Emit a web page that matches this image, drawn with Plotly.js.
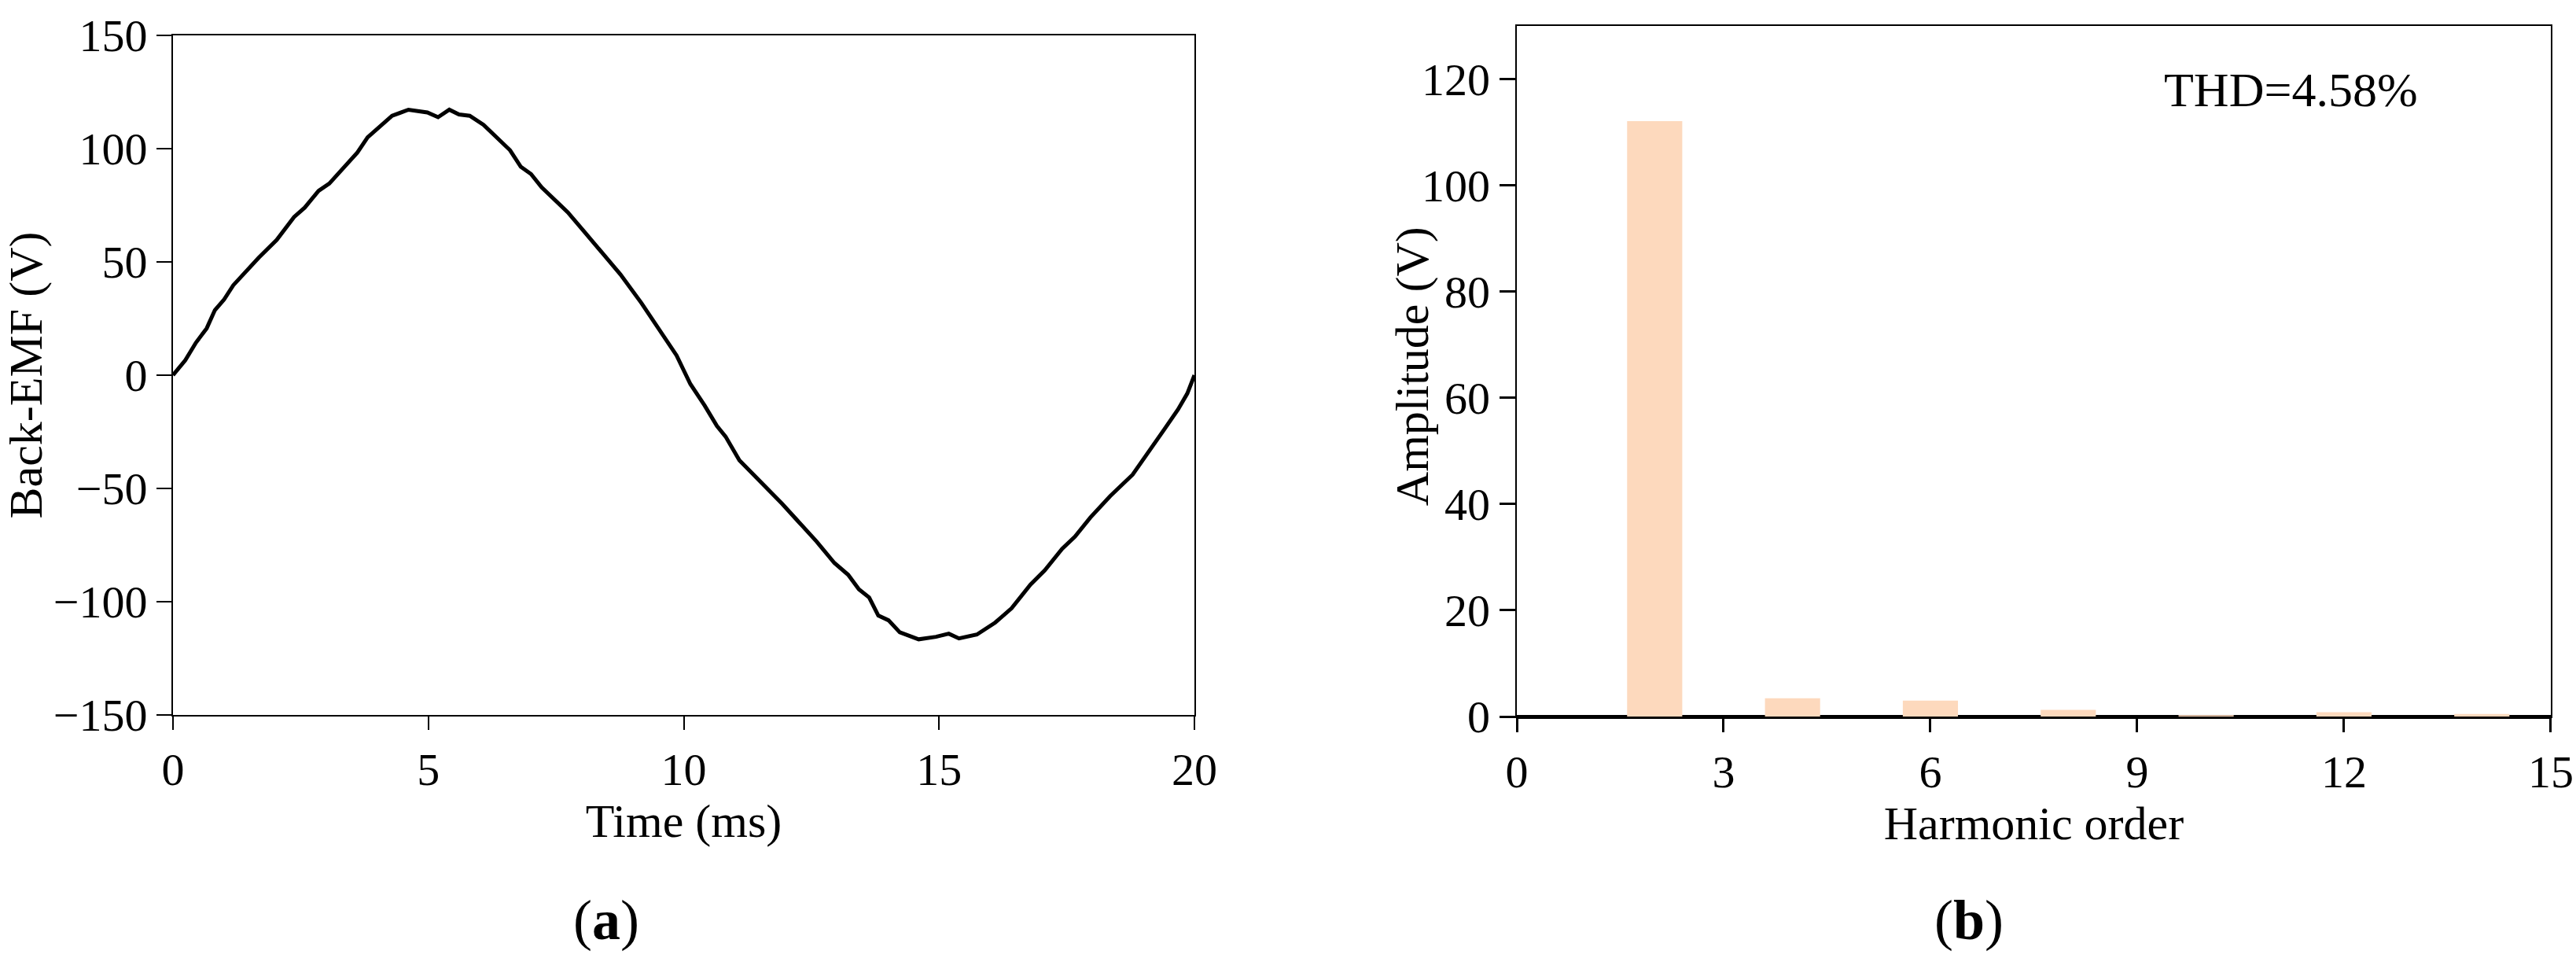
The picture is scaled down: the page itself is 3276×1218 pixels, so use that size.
<!DOCTYPE html>
<html>
<head>
<meta charset="utf-8">
<script src="https://cdn.plot.ly/plotly-3.0.1.min.js"></script>
<style>
  html, body { margin: 0; padding: 0; background: #ffffff; }
  #chart { width: 3276px; height: 1218px; }
</style>
</head>
<body>
<div id="chart"></div>
<script>
// ---- Data ----
var timeMs = [0, 0.24, 0.45, 0.66, 0.82, 1.0, 1.18, 1.41, 1.68, 2.03, 2.37, 2.58, 2.85, 3.06, 3.33, 3.61, 3.81, 4.06, 4.29, 4.61, 4.98, 5.19, 5.41, 5.6, 5.81, 6.08, 6.35, 6.6, 6.81, 7.01, 7.22, 7.52, 7.73, 8.07, 8.42, 8.76, 9.17, 9.51, 9.86, 10.13, 10.41, 10.65, 10.82, 11.09, 11.37, 11.64, 11.92, 12.26, 12.6, 12.95, 13.22, 13.43, 13.63, 13.81, 14.01, 14.23, 14.6, 14.94, 15.19, 15.39, 15.74, 16.1, 16.42, 16.79, 17.07, 17.41, 17.66, 17.96, 18.35, 18.79, 19.09, 19.41, 19.68, 19.86, 20];
var backEmf = [0, 6.6, 14.4, 20.7, 28.7, 33.4, 39.7, 45.6, 51.9, 59.7, 69.8, 74.0, 81.4, 84.6, 91.5, 98.3, 105.0, 109.8, 114.5, 117.2, 116.0, 113.9, 117.2, 115.1, 114.5, 110.5, 104.6, 99.3, 92.0, 88.8, 82.9, 76.2, 71.9, 62.9, 53.4, 44.5, 31.9, 20.3, 8.7, -3.9, -13.4, -22.4, -27.1, -37.6, -43.9, -50.2, -56.6, -65.0, -73.4, -82.9, -88.1, -94.5, -98.1, -106.1, -108.2, -113.5, -116.6, -115.5, -114.1, -116.2, -114.5, -109.2, -102.9, -92.4, -86.1, -76.6, -71.3, -62.9, -53.4, -43.9, -34.5, -23.9, -15.1, -8.1, 0];

var harmonicOrder = [2, 4, 6, 8, 10, 12, 14];
var harmonicAmplitude = [112.1, 3.45, 3.0, 1.25, 0.25, 0.8, 0.5];

var timeTicks = [0, 5, 10, 15, 20];
var emfTicks = [-150, -100, -50, 0, 50, 100, 150];
var orderTicks = [0, 3, 6, 9, 12, 15];
var ampTicks = [0, 20, 40, 60, 80, 100, 120];

var thdText = 'THD=4.58%';

// ---- Styles ----
var FONT = '"Liberation Serif", "Times New Roman", Times, serif';
var tickFont = {family: FONT, size: 58, color: '#000'};
var titleFont = {family: FONT, size: 60, color: '#000'};

var traces = [
  {
    type: 'scatter', mode: 'lines',
    x: timeMs, y: backEmf,
    xaxis: 'x', yaxis: 'y',
    line: {color: '#000000', width: 5},
    hoverinfo: 'skip', showlegend: false
  },
  {
    type: 'bar',
    x: harmonicOrder, y: harmonicAmplitude,
    xaxis: 'x2', yaxis: 'y2',
    width: 0.8,
    marker: {color: '#FDD9BD', line: {width: 0}},
    hoverinfo: 'skip', showlegend: false
  }
];

var layout = {
  width: 3276, height: 1218,
  margin: {l: 0, r: 0, t: 0, b: 0},
  paper_bgcolor: '#ffffff', plot_bgcolor: '#ffffff',
  showlegend: false,
  font: {family: FONT, color: '#000'},
  xaxis: {
    domain: [0.06716, 0.46368], anchor: 'y',
    range: [0, 20], tickvals: timeTicks,
    ticks: 'outside', ticklen: 17, tickwidth: 2, tickcolor: '#000',
    showline: true, linewidth: 2, linecolor: '#000', mirror: true,
    showgrid: false, zeroline: false,
    tickfont: tickFont, ticklabeloverflow: 'allow',
    title: {text: 'Time (ms)', font: titleFont, standoff: 4}
  },
  yaxis: {
    domain: [0.25369, 0.96305], anchor: 'x',
    range: [-150, 150], tickvals: emfTicks,
    ticks: 'outside', ticklen: 19, tickwidth: 2, tickcolor: '#000',
    showline: true, linewidth: 2, linecolor: '#000', mirror: true,
    showgrid: false, zeroline: false,
    tickfont: tickFont,
    title: {text: 'Back-EMF (V)', font: titleFont, standoff: 2}
  },
  xaxis2: {
    domain: [0.58883, 0.99020], anchor: 'y2',
    range: [0, 15], tickvals: orderTicks,
    ticks: 'outside', ticklen: 18, tickwidth: 3, tickcolor: '#000',
    showline: true, linewidth: 2, linecolor: '#000', mirror: true,
    showgrid: false, zeroline: false,
    tickfont: tickFont, ticklabeloverflow: 'allow',
    layer: 'above traces',
    title: {text: 'Harmonic order', font: titleFont, standoff: 4}
  },
  yaxis2: {
    domain: [0.25205, 0.97291], anchor: 'x2',
    range: [0, 130], tickvals: ampTicks,
    ticks: 'outside', ticklen: 20, tickwidth: 3, tickcolor: '#000',
    showline: true, linewidth: 2.5, linecolor: '#000', mirror: true,
    showgrid: false,
    zeroline: true, zerolinewidth: 5, zerolinecolor: '#000',
    layer: 'above traces',
    tickfont: tickFont
  },
  annotations: [
    {
      xref: 'paper', yref: 'paper', x: 0.5482, y: 0.618,
      text: 'Amplitude (V)', textangle: -90, showarrow: false,
      xanchor: 'center', yanchor: 'middle',
      font: titleFont
    },
    {
      xref: 'x2', yref: 'y2', x: 11.23, y: 118,
      text: thdText, showarrow: false,
      xanchor: 'center', yanchor: 'middle',
      font: {family: FONT, size: 62, color: '#000'}
    },
    {
      xref: 'paper', yref: 'paper', x: 0.2353, y: 0.0394,
      text: '(<b>a</b>)', showarrow: false,
      xanchor: 'center', yanchor: 'middle',
      font: {family: FONT, size: 72, color: '#000'}
    },
    {
      xref: 'paper', yref: 'paper', x: 0.7643, y: 0.0394,
      text: '(<b>b</b>)', showarrow: false,
      xanchor: 'center', yanchor: 'middle',
      font: {family: FONT, size: 72, color: '#000'}
    }
  ]
};

Plotly.newPlot('chart', traces, layout, {staticPlot: true, displayModeBar: false});
</script>
</body>
</html>
